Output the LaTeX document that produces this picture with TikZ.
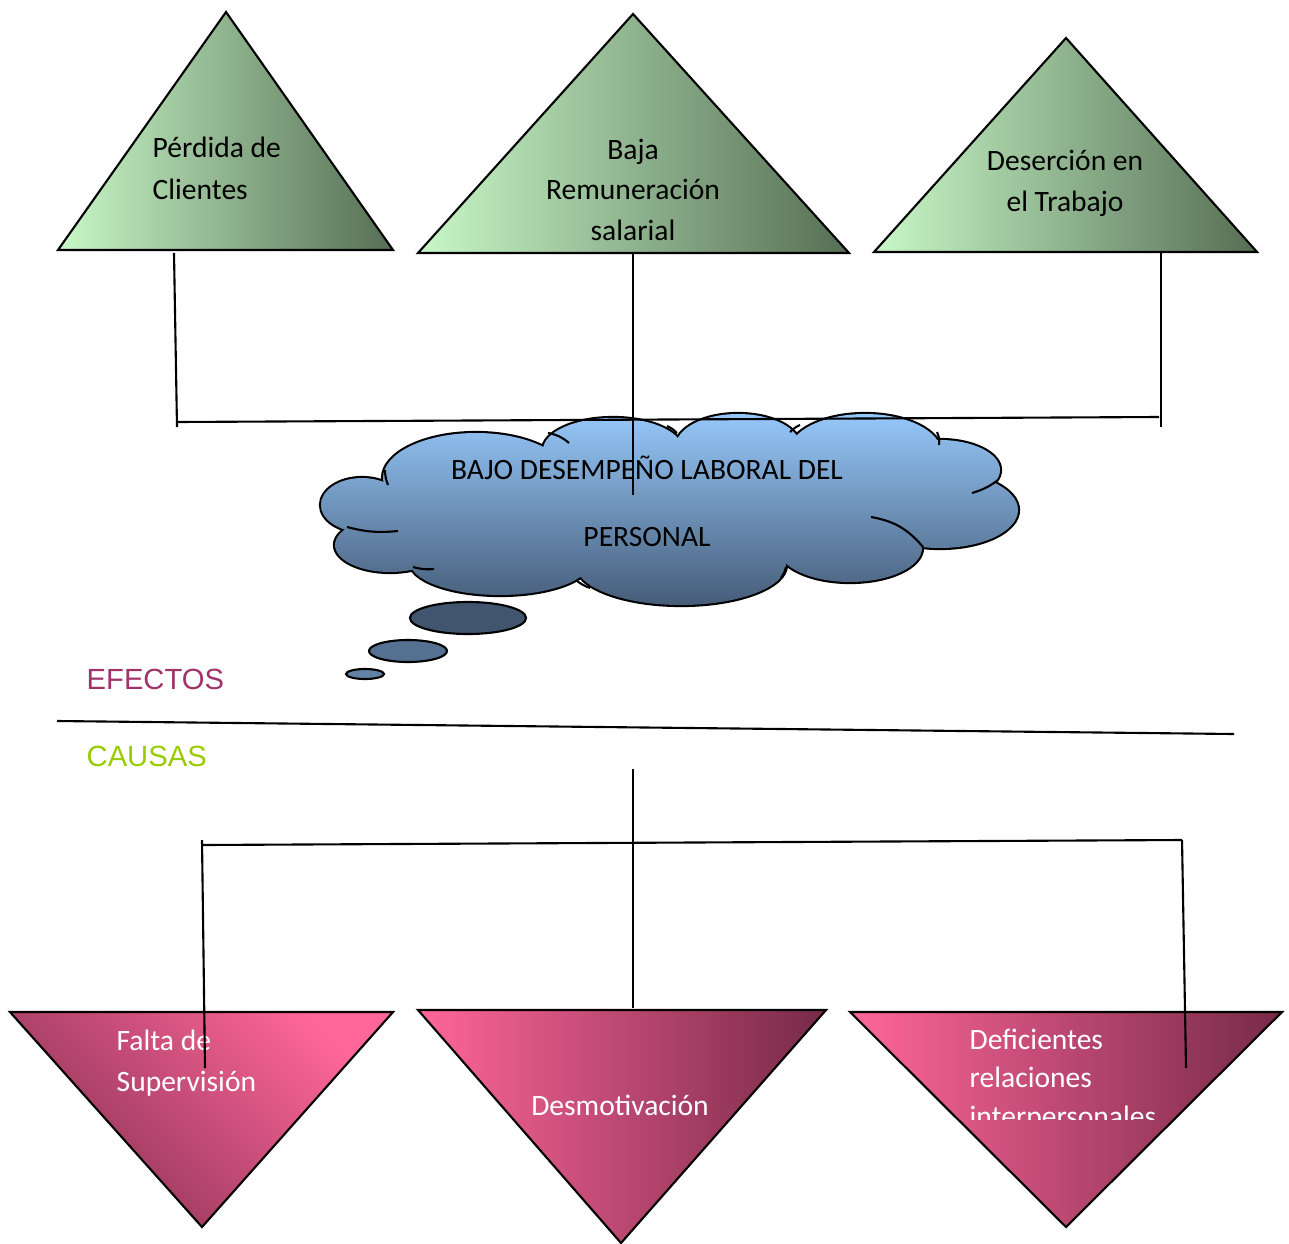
\documentclass[tikz,border=0pt]{standalone}
\usepackage{fontspec}
\setmainfont{Carlito}
\newfontfamily\arialfont{Liberation Sans}
\definecolor{verdeclaro}{HTML}{C8F8C8}
\definecolor{verdeoscuro}{HTML}{566E54}
\definecolor{rosaclaro}{HTML}{FF6699}
\definecolor{rosaoscuro}{HTML}{772A48}
\definecolor{azulclaro}{HTML}{99CCFF}
\definecolor{azuloscuro}{HTML}{445A75}
\definecolor{colorefectos}{HTML}{A0336A}
\definecolor{colorcausas}{HTML}{99CC00}
\tikzset{
  efecto/.style={draw=black, line width=0.6pt, left color=verdeclaro,
    middle color=verdeclaro!62!verdeoscuro, right color=verdeoscuro},
  causa/.style={draw=black, line width=0.6pt, left color=rosaclaro,
    middle color=rosaclaro!68!rosaoscuro, right color=rosaoscuro},
  burbuja/.style={draw=black, line width=0.6pt},
  texto/.style={font=\fontsize{8.4}{10}\selectfont, inner sep=0pt},
  linea/.style={black, line width=0.6pt}
}
\begin{document}
\begin{tikzpicture}[x=0.01cm, y=-0.01cm]
\useasboundingbox (0,0) rectangle (1289,1243);
% efectos
\path[efecto] (58,250) -- (226,12) -- (393,250) -- cycle;
\path[efecto] (418,253) -- (633,14) -- (849,253) -- cycle;
\path[efecto] (874,252) -- (1066,38) -- (1257,252) -- cycle;
\node[texto, anchor=base west] (perdida1) at (152,158) {Pérdida de};
\node[texto, anchor=base west] (perdida2) at (152,200) {Clientes};
\node[texto, anchor=base] (baja1) at (633,160) {Baja};
\node[texto, anchor=base] (baja2) at (633,200) {Remuneración};
\node[texto, anchor=base] (baja3) at (633,241) {salarial};
\node[texto, anchor=base] (desercion1) at (1065,171) {Deserción en};
\node[texto, anchor=base] (desercion2) at (1065,212) {el Trabajo};
% problema central: nube
\def\puffs{476/478/93/45, 613/450/70/32, 738/446/62/32, 865/452/76/38,
  940/470/60/30, 940/510/78/38, 850/548/72/34, 681/565/105/40,
  500/562/90/33, 390/545/55/27, 362/505/41/27, 670/505/285/62}
\foreach \cx/\cy/\rx/\ry in \puffs
  \draw[line width=1.2pt] (\cx,\cy) ellipse ({\rx*0.01cm} and {\ry*0.01cm});
\begin{scope}
\clip \foreach \cx/\cy/\rx/\ry in \puffs {(\cx,\cy) ellipse ({\rx*0.01cm} and {\ry*0.01cm})};
\shade[top color=azulclaro, bottom color=azuloscuro] (300,405) rectangle (1030,610);
\end{scope}
% trazos interiores
\draw[linea] (548,433) to[bend left=15] (569,443);
\draw[linea] (667,426) to[bend left=10] (677,433);
\draw[linea] (800,425) to[bend right=10] (790,432);
\draw[linea] (937,432) to[bend left=15] (939,445);
\draw[linea] (998,480) to[bend left=10] (972,493);
\draw[linea] (871,517) to[bend left=20] (923,547);
\draw[linea] (786,567) to[bend left=10] (781,578);
\draw[linea] (576,580) to[bend right=10] (590,588);
\draw[linea] (413,567) to[bend right=10] (434,569);
\draw[linea] (347,527) to[bend right=10] (398,531);
\draw[linea] (385,470) to[bend right=10] (388,485);
% burbujas
\path[burbuja, fill=azuloscuro!95!black] (468,618) ellipse (0.58cm and 0.16cm);
\path[burbuja, fill=azuloscuro!80!azulclaro] (408,651) ellipse (0.39cm and 0.11cm);
\path[burbuja, fill=azuloscuro!65!azulclaro] (365,674) ellipse (0.19cm and 0.05cm);
\node[texto, anchor=base] (problema1) at (647,479) {BAJO DESEMPEÑO LABORAL DEL};
\node[texto, anchor=base] (problema2) at (647,546) {PERSONAL};
% conectores de efectos
\coordinate (e1) at (174,253);
\coordinate (e1b) at (177,427);
\coordinate (e2) at (633,253);
\coordinate (e2b) at (633,495);
\coordinate (e3) at (1161,253);
\coordinate (e3b) at (1161,427);
\coordinate (h1) at (177,422);
\coordinate (h2) at (1159,417);
\draw[linea] (e1) -- (e1b);
\draw[linea] (e2) -- (e2b);
\draw[linea] (e3) -- (e3b);
\draw[linea] (h1) -- (h2);
% division
\coordinate (d1) at (57,721);
\coordinate (d2) at (1234,734);
\draw[linea] (d1) -- (d2);
\node[anchor=base west, inner sep=0pt, font=\arialfont\fontsize{8.3}{10}\selectfont, text=colorefectos] (efectos) at (86,689) {EFECTOS};
\node[anchor=base west, inner sep=0pt, font=\arialfont\fontsize{8.3}{10}\selectfont, text=colorcausas] (causas) at (86,766) {CAUSAS};
% causas
\path[causa, top color=rosaclaro, bottom color=rosaoscuro!85!rosaclaro, shading angle=-45] (10,1012) -- (393,1012) -- (202,1227) -- cycle;
\path[causa] (418,1010) -- (826,1010) -- (621,1243) -- cycle;
\path[causa] (850,1012) -- (1282,1012) -- (1066,1227) -- cycle;
\node[texto, text=white, anchor=base west] (falta1) at (116,1050) {Falta de};
\node[texto, text=white, anchor=base west] (falta2) at (116,1091) {Supervisión};
\node[texto, text=white, anchor=base] (desmotivacion) at (620,1115) {Desmotivación};
\node[texto, text=white, anchor=base west] (deficientes1) at (969,1049) {Deficientes};
\node[texto, text=white, anchor=base west] (deficientes2) at (969,1087) {relaciones};
\begin{scope}
\clip (850,1000) rectangle (1282,1119);
\node[texto, text=white, anchor=base west] (deficientes3) at (969,1126) {interpersonales};
\end{scope}
% conectores de causas
\coordinate (c0) at (633,769);
\coordinate (c0b) at (633,1008);
\coordinate (c1) at (202,840);
\coordinate (c1b) at (205,1068);
\coordinate (c3) at (1182,840);
\coordinate (c3b) at (1186,1068);
\coordinate (k1) at (202,845);
\coordinate (k2) at (1182,840);
\draw[linea] (c0) -- (c0b);
\draw[linea] (k1) -- (k2);
\draw[linea] (c1) -- (c1b);
\draw[linea] (c3) -- (c3b);
\end{tikzpicture}
\end{document}
